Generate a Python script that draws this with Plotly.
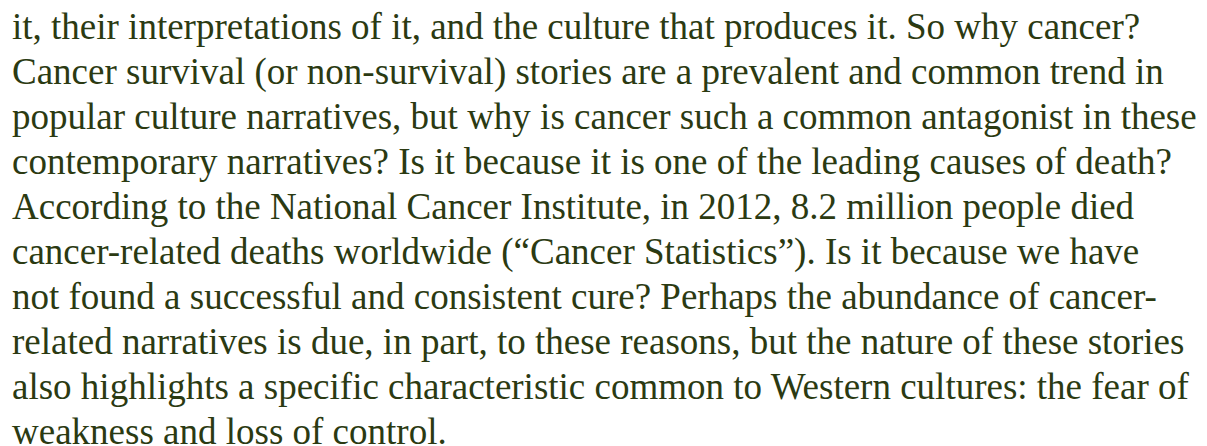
import plotly.graph_objects as go

lines = [
    "it, their interpretations of it, and the culture that produces it. So why cancer?",
    "Cancer survival (or non-survival) stories are a prevalent and common trend in",
    "popular culture narratives, but why is cancer such a common antagonist in these",
    "contemporary narratives? Is it because it is one of the leading causes of death?",
    "According to the National Cancer Institute, in 2012, 8.2 million people died",
    "cancer-related deaths worldwide (\u201cCancer Statistics\u201d). Is it because we have",
    "not found a successful and consistent cure? Perhaps the abundance of cancer-",
    "related narratives is due, in part, to these reasons, but the nature of these stories",
    "also highlights a specific characteristic common to Western cultures: the fear of",
    "weakness and loss of control.",
]
line_index = list(range(len(lines)))

W, H = 1207, 446
first_px, step_px = 22, 45
top = -first_px / step_px
bottom = (H - first_px) / step_px

fig = go.Figure(
    go.Scatter(
        x=[4] * len(lines),
        y=line_index,
        text=lines,
        mode="text",
        textposition="middle right",
        textfont=dict(family="Liberation Serif", size=37, color="#2b3a12"),
        hoverinfo="skip",
        cliponaxis=False,
    )
)
fig.update_layout(
    width=W,
    height=H,
    margin=dict(l=0, r=0, t=0, b=0),
    paper_bgcolor="white",
    plot_bgcolor="white",
    showlegend=False,
    xaxis=dict(range=[0, W], visible=False, fixedrange=True),
    yaxis=dict(range=[bottom, top], visible=False, fixedrange=True),
)
fig.write_html("out.html")
